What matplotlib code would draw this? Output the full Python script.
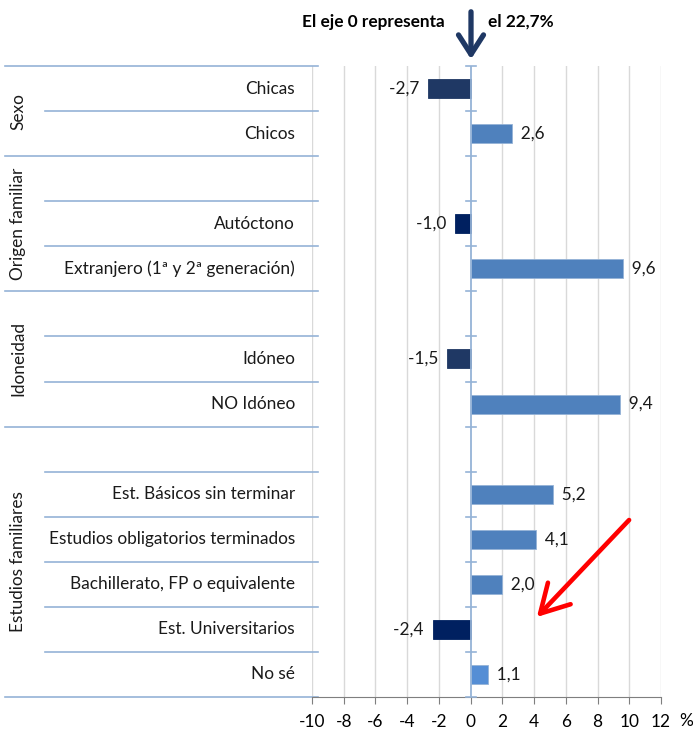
import matplotlib
matplotlib.use("Agg")
import matplotlib.pyplot as plt
from matplotlib.transforms import blended_transform_factory

plt.rcParams['font.family'] = ['Lato', 'DejaVu Sans']

categories = ["Chicas", "Chicos", "", "Autóctono", "Extranjero (1ª y 2ª generación)", "",
              "Idóneo", "NO Idóneo", "", "Est. Básicos sin terminar",
              "Estudios obligatorios terminados", "Bachillerato, FP o equivalente",
              "Est. Universitarios", "No sé"]
values = [-2.7, 2.6, None, -1.0, 9.6, None, -1.5, 9.4, None, 5.2, 4.1, 2.0, -2.4, 1.1]
value_labels = ["-2,7", "2,6", "", "-1,0", "9,6", "", "-1,5", "9,4", "", "5,2", "4,1", "2,0", "-2,4", "1,1"]
bar_colors = ["#1F3864", "#4F81BD", None, "#002060", "#4F81BD", None, "#1F3864", "#4F81BD", None,
              "#4F81BD", "#4F81BD", "#4F81BD", "#002060", "#558ED5"]
groups = ["Sexo", "Origen familiar", "Idoneidad", "Estudios familiares"]
group_spans = [(0, 2), (2, 5), (5, 8), (8, 14)]
x_ticks = [-10, -8, -6, -4, -2, 0, 2, 4, 6, 8, 10, 12]

FS = 12.4
W, H = 693, 736
fig = plt.figure(figsize=(W / 100, H / 100), dpi=100)
L, R, T, B = 312, 661, 66, 697
ax = fig.add_axes([L / W, 1 - B / H, (R - L) / W, (B - T) / H])
n = len(categories)
ax.set_xlim(-10, 12)
ax.set_ylim(n - 0.5, -0.5)

for xv in x_ticks:
    if xv != 0:
        ax.axvline(xv, color="#D9D9D9", lw=1, zorder=0)

for i, (v, c) in enumerate(zip(values, bar_colors)):
    if v is None:
        continue
    ax.barh(i, v, height=0.42, color=c, edgecolor="#95B3D7" if v > 0 else c, lw=0.6, zorder=3)
    if v > 0:
        ax.text(v, i, "  " + value_labels[i], ha="left", va="center", fontsize=FS, color="#1a1a1a")
    else:
        ax.text(v, i, value_labels[i] + "  ", ha="right", va="center", fontsize=FS, color="#1a1a1a")

# zero axis
ax.axvline(0, color="#95B3D7", lw=1.3, zorder=4)
tr_px = blended_transform_factory(fig.transFigure, ax.transData)
x0px = L + (R - L) * 10 / 22
for b in range(n + 1):
    yb = b - 0.5
    ax.plot([(x0px - 5) / W, (x0px + 5) / W], [yb, yb], transform=tr_px, color="#95B3D7",
            lw=1.2, clip_on=False, zorder=4)

for s in ["top", "right", "left"]:
    ax.spines[s].set_visible(False)
ax.spines["bottom"].set_color("#7F7F7F")
ax.set_xticks(x_ticks)
ax.set_xticklabels([str(x) for x in x_ticks], fontsize=FS)
ax.tick_params(axis="x", direction="out", length=5, color="#7F7F7F", pad=7)
ax.set_yticks([])
fig.text(686 / W, 1 - 721 / H, "%", ha="center", va="center", fontsize=FS)

# category labels and separators
for i, c in enumerate(categories):
    if c:
        ax.text(295 / W, i, c, transform=tr_px, ha="right", va="center", fontsize=FS, color="#1a1a1a")
group_bounds = set()
for (a, b) in group_spans:
    group_bounds.add(a)
    group_bounds.add(b)
for b in range(n + 1):
    yb = b - 0.5
    x_start = 5 if b in group_bounds else 45
    ax.plot([x_start / W, 318 / W], [yb, yb], transform=tr_px, color="#95B3D7", lw=1.2,
            clip_on=False, zorder=2)
for g, (a, b) in zip(groups, group_spans):
    ax.text(18 / W, (a + b - 1) / 2, g, transform=tr_px, rotation=90, ha="center", va="center",
            fontsize=FS, color="#1a1a1a")

# annotations
fig.text(445 / W, 1 - 22 / H, "El eje 0 representa", ha="right", va="center", fontsize=FS,
         fontweight="bold")
fig.text(488 / W, 1 - 22 / H, "el 22,7%", ha="left", va="center", fontsize=FS, fontweight="bold")
fig.add_artist(matplotlib.patches.FancyArrowPatch((471 / W, 1 - 9 / H), (471 / W, 1 - 62 / H),
               transform=fig.transFigure, arrowstyle="->,head_length=7,head_width=4.5",
               color="#1F3864", lw=3.8, mutation_scale=2))
fig.add_artist(matplotlib.patches.FancyArrowPatch((631 / W, 1 - 518 / H), (535 / W, 1 - 619 / H),
               transform=fig.transFigure, arrowstyle="->,head_length=8,head_width=4.5",
               color="#FF0000", lw=3.3, mutation_scale=2.5))

fig.savefig("out.png", dpi=100)
